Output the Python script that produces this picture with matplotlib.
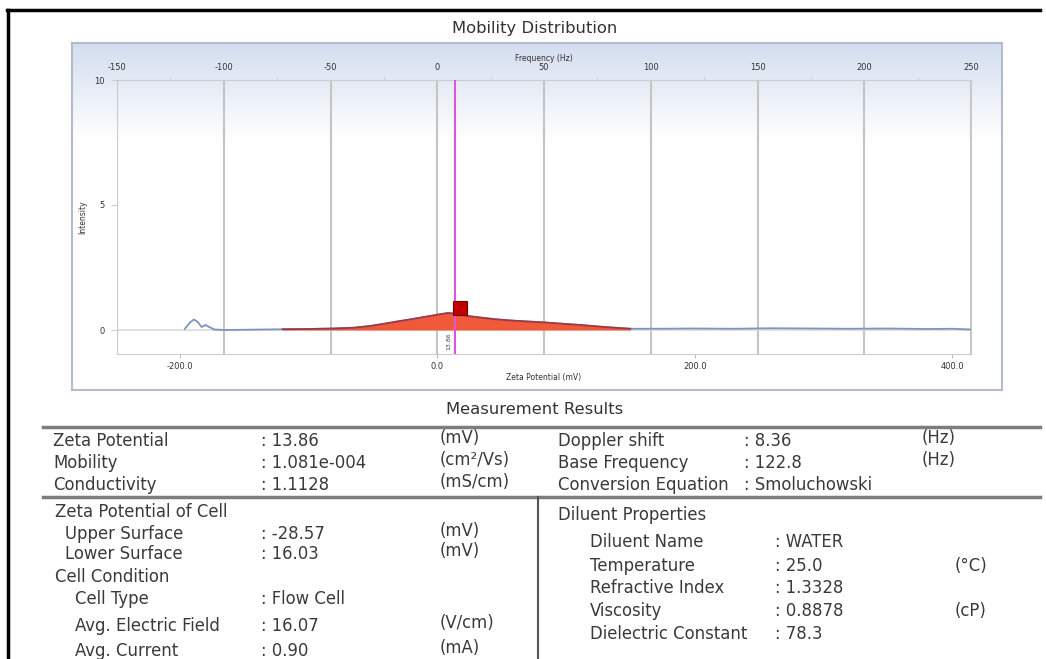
import numpy as np
import matplotlib
matplotlib.use('Agg')
from matplotlib import pyplot as plt
from matplotlib.lines import Line2D

# Measured values
zeta_potential = 13.86      # mV
doppler_shift = 8.36        # Hz
mv_per_hz = zeta_potential / doppler_shift

# Intensity distribution over zeta potential (mV)
zeta_mv = [-196, -192, -189, -186, -183, -180, -177, -173, -165, -150,
           -135, -120, -100, -80, -65, -52, -40, -30, -20, -10,
           0, 5, 8, 12, 18, 25, 33, 45, 57, 70,
           84, 97, 111, 125, 135, 150, 170, 200, 230, 260,
           290, 320, 350, 380, 400, 414]
intensity = [0.05, 0.30, 0.42, 0.32, 0.12, 0.20, 0.12, 0.02, 0.00, 0.01,
             0.02, 0.03, 0.04, 0.06, 0.09, 0.16, 0.26, 0.35, 0.43, 0.52,
             0.61, 0.65, 0.68, 0.66, 0.60, 0.55, 0.50, 0.43, 0.38, 0.34,
             0.30, 0.25, 0.20, 0.14, 0.10, 0.05, 0.05, 0.06, 0.05, 0.07,
             0.06, 0.05, 0.06, 0.04, 0.05, 0.02]
peak_lo, peak_hi = -120, 150      # range of the selected peak
peak_marker = (18.0, 0.9)

freq_ticks = [-150, -100, -50, 0, 50, 100, 150, 200, 250]
freq_minor = [-125, -75, -25, 25, 75, 125, 175, 225]
zeta_ticks = [-200, 0, 200, 400]
int_ticks = [0, 5, 10]

left_rows = [
    ("Zeta Potential", ": 13.86", "(mV)"),
    ("Mobility", ": 1.081e-004", "(cm\u00b2/Vs)"),
    ("Conductivity", ": 1.1128", "(mS/cm)"),
]
right_rows = [
    ("Doppler shift", ": 8.36", "(Hz)"),
    ("Base Frequency", ": 122.8", "(Hz)"),
    ("Conversion Equation", ": Smoluchowski", ""),
]
cell_rows = [
    ("Zeta Potential of Cell", "", "", 55, 512),
    ("Upper Surface", ": -28.57", "(mV)", 65, 534),
    ("Lower Surface", ": 16.03", "(mV)", 65, 554),
    ("Cell Condition", "", "", 55, 577),
    ("Cell Type", ": Flow Cell", "", 75, 599),
    ("Avg. Electric Field", ": 16.07", "(V/cm)", 75, 626),
    ("Avg. Current", ": 0.90", "(mA)", 75, 651),
]
diluent_rows = [
    ("Diluent Properties", "", "", 558, 515),
    ("Diluent Name", ": WATER", "", 590, 542),
    ("Temperature", ": 25.0", "(\u00b0C)", 590, 566),
    ("Refractive Index", ": 1.3328", "", 590, 588),
    ("Viscosity", ": 0.8878", "(cP)", 590, 611),
    ("Dielectric Constant", ": 78.3", "", 590, 634),
]

W, H = 1046, 659
plt.rcParams['font.family'] = ['DejaVu Sans']
plt.rcParams['axes.unicode_minus'] = False


def fx(x):
    return x / W


def fy(y):
    return 1 - y / H


def hline(fig, x0, x1, y, **kw):
    fig.add_artist(Line2D([fx(x0), fx(x1)], [fy(y), fy(y)], **kw))


def vline(fig, x, y0, y1, **kw):
    fig.add_artist(Line2D([fx(x), fx(x)], [fy(y0), fy(y1)], **kw))


fig = plt.figure(figsize=(W / 100, H / 100), dpi=100)
fig.patch.set_facecolor('white')

# outer frame
hline(fig, 7, 1040, 10, color='black', lw=2.5)
vline(fig, 8, 10, 659, color='black', lw=2.5)

fig.text(fx(535), fy(28), "Mobility Distribution", ha='center', va='center',
         fontsize=11.8, color='#333333')

# panel with soft blue gradient
bg = fig.add_axes([fx(72), fy(390), (1002 - 72) / W, (390 - 43) / H])
t = np.clip(np.linspace(0, 1, 200) / 0.28, 0, 1)[:, None]
top_col = np.array([0.83, 0.87, 0.94])
grad = top_col[None, None, :] * (1 - t[:, :, None]) + t[:, :, None]
bg.imshow(grad, aspect='auto', extent=(0, 1, 0, 1))
bg.set_xticks([])
bg.set_yticks([])
for s in bg.spines.values():
    s.set_color('#b4bccb')
    s.set_linewidth(1.5)

# distribution plot
ax = fig.add_axes([fx(117), fy(354), (971 - 117) / W, (354 - 80) / H])
ax.patch.set_alpha(0)
ax.set_xlim(freq_ticks[0] * mv_per_hz, freq_ticks[-1] * mv_per_hz)
ax.set_ylim(-0.96, 10)

for f in freq_ticks:
    ax.axvline(f * mv_per_hz, color='#c4c4c4', lw=1.5, zorder=0)
ax.axhline(0, color='#dcdcdc', lw=1.2, zorder=0)

z = np.array(zeta_mv)
i = np.array(intensity)
ax.plot(z, i, color='#7f92c6', lw=1.3, zorder=2)
sel = (z >= peak_lo) & (z <= peak_hi)
ax.fill_between(z[sel], 0, i[sel], color='#f05a3b', lw=0, zorder=3)
ax.plot(z[sel], i[sel], color='#9b3a46', lw=1.3, zorder=4)

ax.axvline(zeta_potential, color='#dd55dd', lw=1.5, zorder=5)
ax.plot(*peak_marker, marker='s', ms=9.5, mfc='#c00000', mec='#7a0000',
        mew=0.8, zorder=6)
ax.text(zeta_potential - 5, -0.08, f"{zeta_potential:.2f}", rotation=90,
        ha='center', va='top', fontsize=4.5, color='#444444', zorder=6)

for s in ax.spines.values():
    s.set_color('#cccccc')
ax.set_xticks(zeta_ticks)
ax.set_xticklabels([f"{v:.1f}" for v in zeta_ticks])
ax.set_yticks(int_ticks)
ax.tick_params(axis='x', length=3, color='#bbbbbb', labelsize=6,
               labelcolor='#333333', pad=3)
ax.tick_params(axis='y', length=4, color='#cccccc', labelsize=6,
               labelcolor='#333333', pad=5)
ax.set_xlabel("Zeta Potential (mV)", fontsize=5.5, color='#333333', labelpad=1)
ax.set_ylabel("Intensity", fontsize=5.5, color='#333333', labelpad=5)

top = ax.secondary_xaxis('top', functions=(lambda v: v / mv_per_hz,
                                           lambda v: v * mv_per_hz))
top.set_xticks(freq_ticks)
top.set_xticks(freq_minor, minor=True)
top.tick_params(axis='x', which='major', length=0, labelsize=6,
                labelcolor='#333333', pad=6)
top.tick_params(axis='x', which='minor', length=2, color='#c8c8c8')
top.spines['top'].set_color('#cccccc')
top.set_xlabel("Frequency (Hz)", fontsize=5.5, color='#333333', labelpad=1.5)

# measurement results table
fig.text(fx(535), fy(409), "Measurement Results", ha='center', va='center',
         fontsize=11.8, color='#333333')
hline(fig, 43, 1040, 427, color='#7d7d7d', lw=2.5)
hline(fig, 43, 1040, 497, color='#7d7d7d', lw=2.5)
vline(fig, 538, 497, 659, color='#555555', lw=1.5)

txt = dict(fontsize=11.9, color='#3a3a3a', va='center')
for k, (name, val, unit) in enumerate(left_rows):
    y = 441 + k * 22
    fig.text(fx(53), fy(y), name, **txt)
    fig.text(fx(261), fy(y), val, **txt)
    fig.text(fx(440), fy(y - 3), unit, **txt)
for k, (name, val, unit) in enumerate(right_rows):
    y = 441 + k * 22
    fig.text(fx(558), fy(y), name, **txt)
    fig.text(fx(744), fy(y), val, **txt)
    fig.text(fx(922), fy(y - 3), unit, **txt)
for name, val, unit, x, y in cell_rows:
    fig.text(fx(x), fy(y), name, **txt)
    if val:
        fig.text(fx(261), fy(y), val, **txt)
    if unit:
        fig.text(fx(440), fy(y - 3), unit, **txt)
for name, val, unit, x, y in diluent_rows:
    fig.text(fx(x), fy(y), name, **txt)
    if val:
        fig.text(fx(775), fy(y), val, **txt)
    if unit:
        fig.text(fx(955), fy(y), unit, **txt)

plt.savefig('out.png', dpi=100)
plt.close()
